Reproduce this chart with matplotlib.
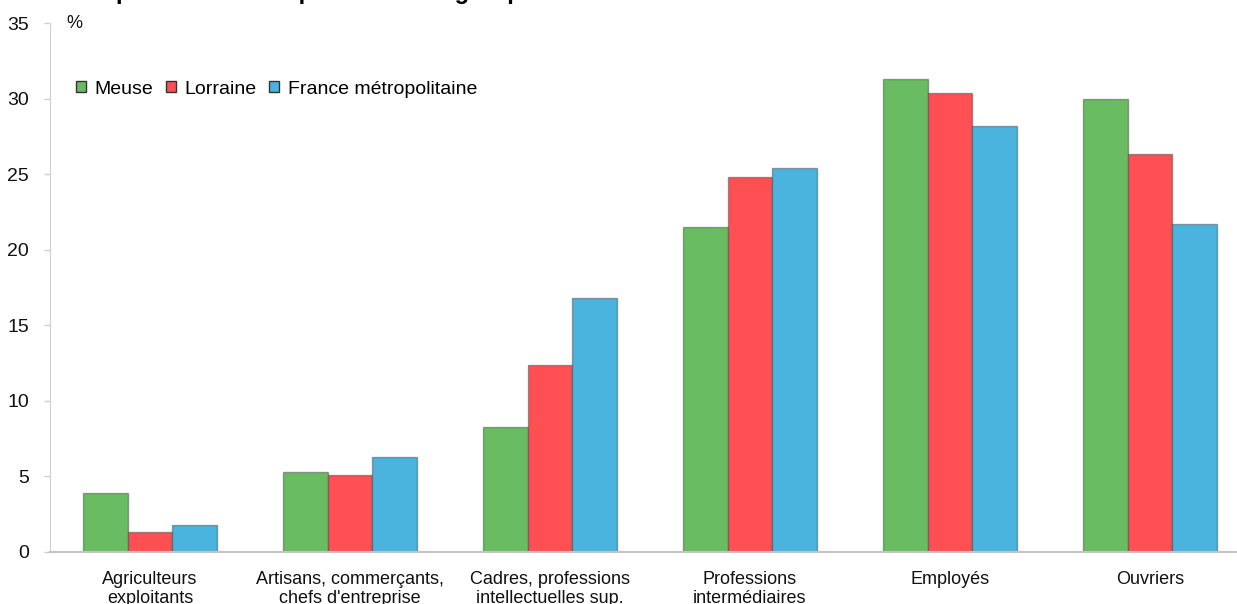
import matplotlib.pyplot as plt
import numpy as np
from matplotlib.patches import Patch

plt.rcParams['font.family'] = ['Liberation Sans', 'DejaVu Sans']

categories = [
    "Agriculteurs\nexploitants",
    "Artisans, commerçants,\nchefs d'entreprise",
    "Cadres, professions\nintellectuelles sup.",
    "Professions\nintermédiaires",
    "Employés",
    "Ouvriers",
]
series_names = ["Meuse", "Lorraine", "France métropolitaine"]
meuse = [3.9, 5.3, 8.3, 21.5, 31.3, 30.0]
lorraine = [1.3, 5.1, 12.4, 24.8, 30.4, 26.3]
france = [1.8, 6.3, 16.8, 25.4, 28.2, 21.7]
yticks = [0, 5, 10, 15, 20, 25, 30, 35]

colors = ['#69bc62', '#fe5052', '#4ab3de']

W, H = 1237, 604
fig = plt.figure(figsize=(W / 100, H / 100), dpi=100)
# the plot area runs a little past the right edge of the figure
ax = fig.add_axes([50 / W, (H - 552) / H, 1200 / W, (552 - 23) / H])

x = np.arange(len(categories))
width = 0.2235
for i, (vals, color) in enumerate(zip([meuse, lorraine, france], colors)):
    ax.bar(x + (i - 1) * width, vals, width, color=color,
           edgecolor=(0.25, 0.25, 0.25, 0.45), linewidth=1, zorder=2)

ax.set_xlim(-0.5, len(categories) - 0.5)
ax.set_ylim(0, 35)
ax.set_yticks(yticks)
ax.set_xticks(x)
ax.set_xticklabels(categories, fontsize=13, linespacing=1.1, color='#111111')

for side in ['top', 'right']:
    ax.spines[side].set_visible(False)
ax.spines['left'].set_color('#cfcfcf')
ax.spines['bottom'].set_color('#c4c4c4')
ax.spines['bottom'].set_linewidth(1.5)
ax.spines['bottom'].set_zorder(3)

ax.tick_params(axis='y', length=4, width=1, color='#cfcfcf', pad=11,
               labelsize=14, labelcolor='#111111')
ax.tick_params(axis='x', length=0, pad=14)

ax.text(16 / 1200, 35, '%', transform=ax.get_yaxis_transform(), fontsize=13,
        ha='left', va='center', color='#111111')

handles = [Patch(facecolor=c, edgecolor='#333333', linewidth=1) for c in colors]
leg = ax.legend(handles, series_names, loc='center left',
                bbox_to_anchor=(26 / 1200, (552 - 89) / 529), ncol=3,
                frameon=False, fontsize=14, handlelength=0.52,
                handleheight=0.52, handletextpad=0.45, columnspacing=0.62,
                borderaxespad=0, borderpad=0)

# title sits above the top edge, only its descenders show
fig.text(86 / W, 1 + 1 / H, "Répartition des emplois selon le groupe social",
         fontsize=17, fontweight='bold', ha='left', va='baseline')

fig.savefig('out.png', dpi=100)
